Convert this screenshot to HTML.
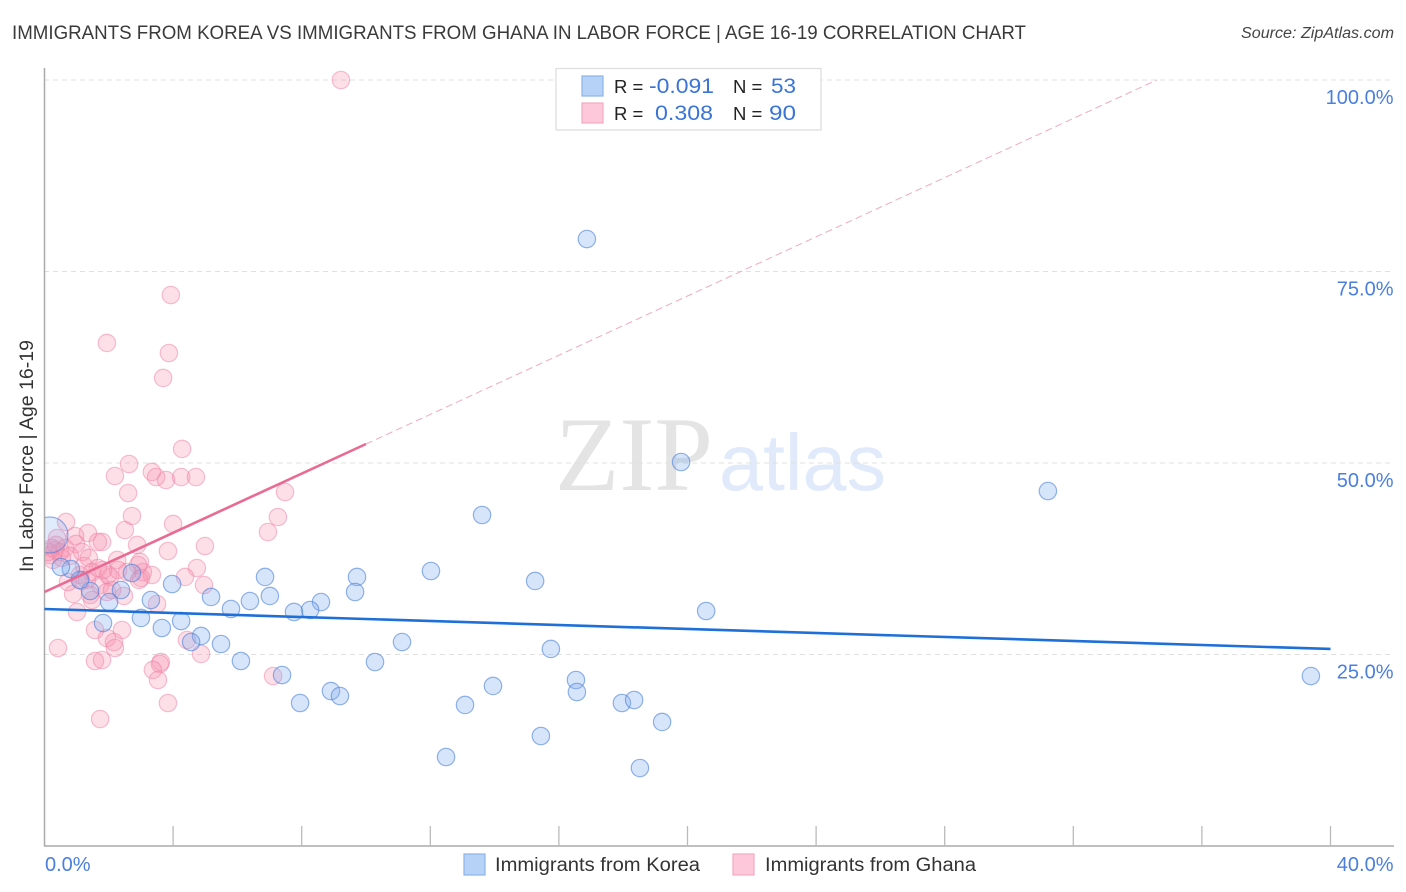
<!DOCTYPE html>
<html>
<head>
<meta charset="utf-8">
<title>Immigrants from Korea vs Immigrants from Ghana in Labor Force | Age 16-19 Correlation Chart</title>
<style>
html,body{margin:0;padding:0;background:#fff;width:1406px;height:892px;overflow:hidden}
svg{display:block;font-family:"Liberation Sans",sans-serif}
</style>
</head>
<body>
<svg id="chart" width="1406" height="892" viewBox="0 0 1406 892" xmlns="http://www.w3.org/2000/svg">
<defs><clipPath id="plot-clip"><rect x="45" y="60" width="1350" height="786"/></clipPath></defs>
<text x="12" y="39" font-size="19.5" fill="#3a3a3a" textLength="1014" lengthAdjust="spacingAndGlyphs">IMMIGRANTS FROM KOREA VS IMMIGRANTS FROM GHANA IN LABOR FORCE | AGE 16-19 CORRELATION CHART</text>
<text x="1241" y="38" font-size="15.5" font-style="italic" fill="#444" textLength="153" lengthAdjust="spacingAndGlyphs">Source: ZipAtlas.com</text>
<g>
<text x="555" y="490" font-family="'Liberation Serif',serif" font-size="106" fill="#e4e4e4" textLength="158" lengthAdjust="spacingAndGlyphs">ZIP</text>
<text x="719" y="490" font-size="80" fill="#e0eafa" textLength="167" lengthAdjust="spacingAndGlyphs">atlas</text>
</g>
<g id="grid"></g>
<g id="axes"></g>
<g id="ghana-points" clip-path="url(#plot-clip)"></g>
<g id="korea-points" clip-path="url(#plot-clip)"></g>
<g id="trends"></g>
<g id="tick-labels"></g>
<text transform="translate(33,572) rotate(-90)" font-size="19" fill="#333" textLength="232" lengthAdjust="spacingAndGlyphs">In Labor Force | Age 16-19</text>
<g>
<rect x="556" y="68.5" width="265" height="61.5" fill="#fff" stroke="#ddd" stroke-width="1.2"/>
<rect x="582" y="76" width="21" height="20" fill="#b6d2f7" stroke="#8db5ea" stroke-width="1.2"/>
<rect x="582" y="103" width="21" height="20" fill="#fdc8d9" stroke="#f4a9c1" stroke-width="1.2"/>
<text x="614" y="93" font-size="18.5" fill="#222">R =</text>
<text x="649" y="93" font-size="21" fill="#3a74d6" textLength="65" lengthAdjust="spacingAndGlyphs">-0.091</text>
<text x="733" y="93" font-size="18.5" fill="#222">N =</text>
<text x="771" y="93" font-size="21" fill="#3a74d6" textLength="25" lengthAdjust="spacingAndGlyphs">53</text>
<text x="614" y="120" font-size="18.5" fill="#222">R =</text>
<text x="655" y="120" font-size="21" fill="#3a74d6" textLength="58" lengthAdjust="spacingAndGlyphs">0.308</text>
<text x="733" y="120" font-size="18.5" fill="#222">N =</text>
<text x="769" y="120" font-size="21" fill="#3a74d6" textLength="27" lengthAdjust="spacingAndGlyphs">90</text>
</g>
<g>
<rect x="464" y="854" width="21" height="21" fill="#b6d2f7" stroke="#8db5ea" stroke-width="1.2"/>
<text x="495" y="871" font-size="19" fill="#333" textLength="205" lengthAdjust="spacingAndGlyphs">Immigrants from Korea</text>
<rect x="733" y="854" width="21" height="21" fill="#fdc8d9" stroke="#f4a9c1" stroke-width="1.2"/>
<text x="765" y="871" font-size="19" fill="#333" textLength="211" lengthAdjust="spacingAndGlyphs">Immigrants from Ghana</text>
</g>
</svg>
<script>
const xTickValues = [0,4,8,12,16,20,24,28,32,36,40];
const yGridValues = [25,50,75,100];
const yTickLabels = ["25.0%","50.0%","75.0%","100.0%"];
const xEndLabels = ["0.0%","40.0%"];
const koreaX = [16.87,19.80,31.21,13.61,39.39,20.58,12.02,15.26,9.72,9.66,8.60,8.26,7.76,7.01,6.86,6.39,5.80,5.18,3.97,3.31,2.72,2.38,2.01,1.42,1.10,0.82,0.51,3.00,3.65,4.25,4.87,4.56,1.82,5.49,6.11,11.12,10.28,7.39,8.91,9.19,7.95,13.95,13.08,15.75,16.53,16.56,17.96,18.34,19.21,15.44,12.49,18.52];
const koreaY = [79.24,50.13,46.34,43.21,22.19,30.68,35.90,34.60,35.12,33.16,31.85,30.81,30.55,32.64,35.12,31.98,30.94,32.51,34.20,32.11,35.64,33.42,31.85,33.29,34.73,36.16,36.42,29.77,28.46,29.37,27.42,26.63,29.11,26.37,24.15,26.63,24.02,22.32,20.23,19.58,18.67,20.89,18.41,25.72,21.67,20.10,18.67,19.06,16.19,14.36,11.62,10.18];
const koreaLargeX = [0.17];
const koreaLargeY = [40.60];
const ghanaX = [9.22,3.93,1.94,3.87,3.69,4.28,2.63,3.34,3.47,3.78,4.25,4.71,2.19,2.60,7.48,2.72,7.26,4.00,6.95,2.50,0.67,1.35,0.95,1.79,1.66,2.88,4.99,3.84,0.39,0.23,0.33,0.17,0.26,0.48,0.64,0.98,1.17,1.38,2.26,2.97,4.74,3.06,4.37,3.34,3.00,2.94,4.96,2.04,1.98,1.66,1.10,1.32,1.73,1.94,2.47,0.89,1.48,1.42,1.01,3.50,2.41,1.57,1.94,2.16,2.19,0.42,1.57,1.79,4.43,4.87,3.62,3.59,3.37,3.53,7.11,3.84,1.73,0.11,0.36,0.54,0.79,1.23,1.48,0.73,1.14,2.29,1.82,2.91,2.57,2.10];
const ghanaY = [100,71.93,65.67,64.36,61.10,51.83,49.87,48.83,48.17,47.78,48.17,48.17,48.30,46.08,46.21,43.08,42.95,42.04,40.99,41.25,42.30,40.86,40.47,39.69,39.69,39.30,39.16,38.51,40.21,38.90,38.64,37.99,37.34,38.38,38.90,39.43,38.38,37.60,37.34,37.08,36.29,35.77,35.12,35.38,34.99,34.73,34.07,35.12,35.38,36.29,35.38,34.73,34.07,33.16,32.64,32.90,32.11,32.77,30.55,31.59,28.20,28.20,27.15,26.63,25.85,25.85,24.15,24.28,26.89,25.07,24.02,23.76,22.98,21.67,22.19,18.67,16.58,38.38,39.30,37.60,37.86,36.55,35.77,34.46,34.60,36.03,36.03,36.68,35.77,33.42];
const koreaTrend = [30.94,-0.1305];
const ghanaTrend = [33.16,1.932];
const ghanaSolidEnd = [10];
const ghanaDashEnd = [34.6];
const koreaTrendEnd = [40];

const NS = "http://www.w3.org/2000/svg";
const xScale = v => 44.5 + v * 32.15;
const yScale = v => 846 - v * 7.66;
function make(parent, tag, attrs) {
  const el = document.createElementNS(NS, tag);
  for (const k in attrs) el.setAttribute(k, attrs[k]);
  document.getElementById(parent).appendChild(el);
  return el;
}
yGridValues.forEach(v => {
  const el = make("grid", "line", {x1:44, x2:1394, y1:yScale(v), y2:yScale(v), stroke:"#e0e0e0", "stroke-width":1, "stroke-dasharray":"5 4"});
  
  
});
const yAxis = make("axes", "line", {x1:44.5, x2:44.5, y1:68, y2:846, stroke:"#aaa", "stroke-width":1.5});


const xAxis = make("axes", "line", {x1:44, x2:1394, y1:846, y2:846, stroke:"#aaa", "stroke-width":1.5});


xTickValues.slice(1).forEach(v => {
  const el = make("axes", "line", {x1:xScale(v), x2:xScale(v), y1:826, y2:846, stroke:"#bbb", "stroke-width":1.3});
  
  
});
function drawPoint(parent, xv, yv, r, fill, stroke, name) {
  const el = make(parent, "circle", {cx:xScale(xv), cy:yScale(yv), r:r, fill:fill, stroke:stroke, "stroke-width":1.2});
  
  
}
const ghanaFill = "rgba(248,150,180,0.3)", ghanaStroke = "rgba(238,130,165,0.5)";
const koreaFill = "rgba(130,175,240,0.32)", koreaStroke = "rgba(70,125,215,0.58)";
ghanaX.forEach((x, i) => drawPoint("ghana-points", x, ghanaY[i], 8.7, ghanaFill, ghanaStroke, "ghana-point"));
koreaX.forEach((x, i) => drawPoint("korea-points", x, koreaY[i], 8.7, koreaFill, koreaStroke, "korea-point"));
koreaLargeX.forEach((x, i) => drawPoint("korea-points", x, koreaLargeY[i], 18, "rgba(130,175,240,0.25)", koreaStroke, "korea-point-large"));
const koreaLine = make("trends", "line", {x1:xScale(0), x2:xScale(koreaTrendEnd[0]), y1:yScale(koreaTrend[0]), y2:yScale(koreaTrend[0] + koreaTrend[1] * koreaTrendEnd[0]), stroke:"#1f6fd8", "stroke-width":2.6});


const ghanaLine = make("trends", "line", {x1:xScale(0), x2:xScale(ghanaSolidEnd[0]), y1:yScale(ghanaTrend[0]), y2:yScale(ghanaTrend[0] + ghanaTrend[1] * ghanaSolidEnd[0]), stroke:"#ea6a94", "stroke-width":2.6});


const ghanaDash = make("trends", "line", {x1:xScale(ghanaSolidEnd[0]), x2:xScale(ghanaDashEnd[0]), y1:yScale(ghanaTrend[0] + ghanaTrend[1] * ghanaSolidEnd[0]), y2:yScale(ghanaTrend[0] + ghanaTrend[1] * ghanaDashEnd[0]), stroke:"#f2a9c0", "stroke-width":1, "stroke-dasharray":"7 4"});


yGridValues.forEach((v, i) => {
  const el = make("tick-labels", "text", {x:1393.5, y:yScale(v) + 24, "text-anchor":"end", "font-size":20, fill:"#4a7fdf"});
  el.textContent = yTickLabels[i];
  
  
});
const x0Label = make("tick-labels", "text", {x:45, y:871, "font-size":20, fill:"#4a7fdf"});
x0Label.textContent = xEndLabels[0];


const x1Label = make("tick-labels", "text", {x:1393.5, y:871, "text-anchor":"end", "font-size":20, fill:"#4a7fdf"});
x1Label.textContent = xEndLabels[1];


</script>
</body>
</html>
